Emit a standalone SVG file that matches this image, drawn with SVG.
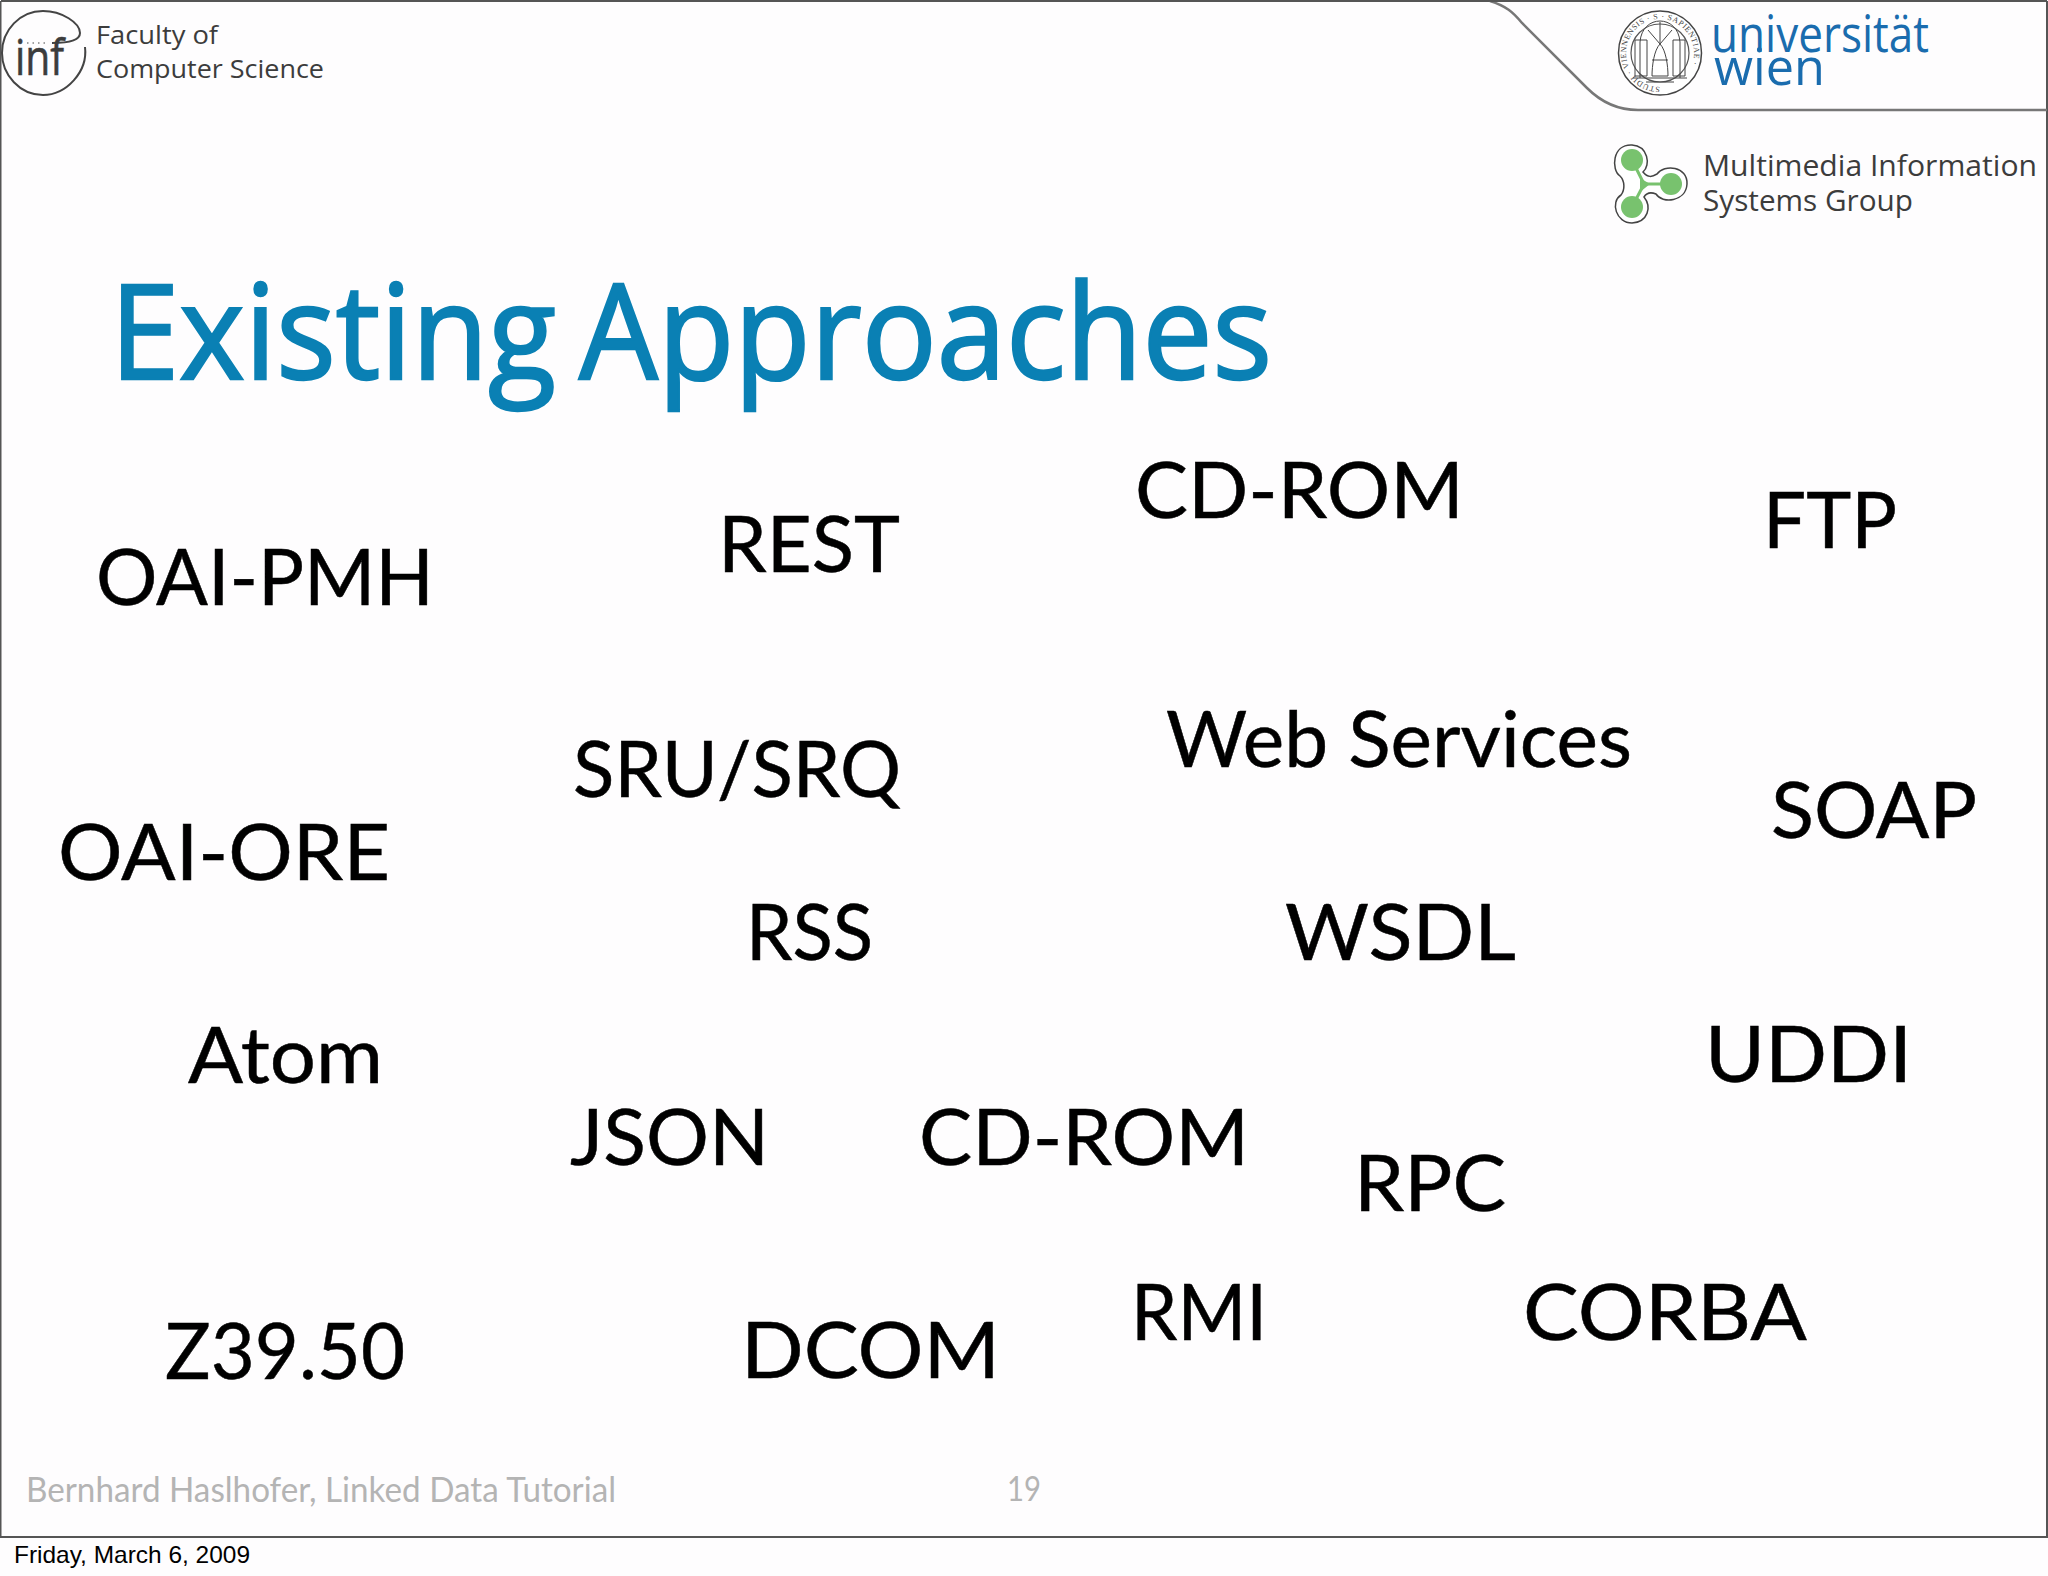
<svg xmlns="http://www.w3.org/2000/svg" width="2048" height="1576" viewBox="0 0 2048 1576">
<style>
.t{font-family:"Lato","Noto Sans",sans-serif;font-size:78px;fill:#000;stroke:#000;stroke-width:.5}
.h{font-family:"Open Sans","Noto Sans",sans-serif;fill:#3c3c3c}
.f{font-family:"Lato","Noto Sans",sans-serif;font-size:35px;fill:#b4b4b4}
.g{fill:none;stroke:#444}
</style>
<defs><path id="sealText" d="M1660 87A34 34 0 1 1 1660.1 87"/></defs>
<rect width="2048" height="1576" fill="#fefdfe"/>
<path d="M.5 1V1537H2047V1" fill="none" stroke="#555" stroke-width="2"/>
<path d="M1 1H1490" fill="none" stroke="#555" stroke-width="2"/>
<path d="M1638 110H2047M1490 1C1506 6 1513 12 1522 23L1587 88C1602 103 1618 110 1638 110" fill="none" stroke="#777" stroke-width="2.5"/>
<path d="M1490 1H2047" stroke="#555" stroke-width="2"/>
<g id="inf-logo">
<path class="g" stroke-width="2" d="M85 47C88 72 66 95 43 95C20 95 2 75 2 53C2 30 20 11 43 11C62 11 80 23 80 33C80 40 70 43 52 43"/>
<text class="h" x="15" y="75" font-size="50" stroke="#3c3c3c" stroke-width=".6" textLength="49" lengthAdjust="spacingAndGlyphs">inf</text>
<path d="M27 43H46" stroke="#444" stroke-width="1" stroke-dasharray="1.5 4"/>
<text class="h" x="96" y="44" font-size="25.5" textLength="122" lengthAdjust="spacingAndGlyphs">Faculty of</text>
<text class="h" x="96" y="78" font-size="25.5" textLength="228" lengthAdjust="spacingAndGlyphs">Computer Science</text>
</g>
<g id="univie-logo">
<ellipse cx="1660" cy="53" rx="41.5" ry="42" fill="#fff" stroke="#444" stroke-width="1.5"/>
<circle cx="1660" cy="53" r="29" fill="none" stroke="#555" stroke-width="1.2"/>
<text font-family="Liberation Serif,serif" font-size="8" fill="#444" letter-spacing=".6"><textPath href="#sealText">STUDII · VIENNENSIS · S · SAPIENTIAE ·</textPath></text>
<path class="g" stroke-width="1" d="M1640 78V42C1642 14 1678 14 1680 42V78M1633 78H1687M1635 40H1647V76H1635ZM1673 40H1685V76H1673ZM1660 44C1654 50 1652 66 1652 76H1668C1668 66 1666 50 1660 44ZM1660 22V44M1648 30L1660 44L1672 30M1652 60H1668M1646 82H1674"/>
<text x="1711" y="52" font-family="Open Sans,sans-serif" font-size="52" fill="#1a6cae" textLength="218" lengthAdjust="spacingAndGlyphs">universität</text>
<text x="1714" y="85" font-family="Open Sans,sans-serif" font-size="52" fill="#1a6cae" textLength="111" lengthAdjust="spacingAndGlyphs">wien</text>
</g>
<g id="mis-logo">
<path fill="#fff" stroke="#444" stroke-width="1.5" d="M1620 176C1611 170 1612 144 1632 145C1648 146 1651 165 1643 172C1648 178 1652 177 1657 174C1664 164 1688 166 1687 184C1686 202 1662 204 1656 194C1651 192 1647 192 1644 197C1652 207 1648 222 1632 223C1616 223 1610 202 1621 195C1625 190 1625 181 1620 176Z"/>
<path d="M1632 160L1644 184H1671M1644 184L1632 207" fill="none" stroke="#78c26e" stroke-width="3"/>
<path d="M1640 178L1650 184L1640 192Z" fill="#78c26e"/>
<circle cx="1632" cy="160" r="11" fill="#78c26e"/><circle cx="1671" cy="184" r="11" fill="#78c26e"/><circle cx="1632" cy="207" r="11" fill="#78c26e"/>
<text class="h" x="1703" y="176" font-size="29" textLength="334" lengthAdjust="spacingAndGlyphs">Multimedia Information</text>
<text class="h" x="1703" y="211" font-size="29" textLength="210" lengthAdjust="spacingAndGlyphs">Systems Group</text>
</g>
<text x="110" y="379" font-family="Open Sans,sans-serif" font-weight="500" font-size="132" word-spacing="-10" fill="#0a80b4" stroke="#0a80b4" stroke-width="2.4" textLength="1162" lengthAdjust="spacingAndGlyphs">Existing Approaches</text>
<g id="labels">
<text class="t" x="96" y="605" textLength="338" lengthAdjust="spacingAndGlyphs">OAI-PMH</text>
<text class="t" x="718" y="572" textLength="182" lengthAdjust="spacingAndGlyphs">REST</text>
<text class="t" x="1135" y="518" textLength="329" lengthAdjust="spacingAndGlyphs">CD-ROM</text>
<text class="t" x="1763" y="548" textLength="134" lengthAdjust="spacingAndGlyphs">FTP</text>
<text class="t" x="573" y="797" textLength="328" lengthAdjust="spacingAndGlyphs">SRU/SRQ</text>
<text class="t" x="1166" y="767" textLength="466" lengthAdjust="spacingAndGlyphs">Web Services</text>
<text class="t" x="1771" y="838" textLength="206" lengthAdjust="spacingAndGlyphs">SOAP</text>
<text class="t" x="58" y="880" textLength="332" lengthAdjust="spacingAndGlyphs">OAI-ORE</text>
<text class="t" x="746" y="960" textLength="127" lengthAdjust="spacingAndGlyphs">RSS</text>
<text class="t" x="1285" y="960" textLength="231" lengthAdjust="spacingAndGlyphs">WSDL</text>
<text class="t" x="188" y="1083" textLength="195" lengthAdjust="spacingAndGlyphs">Atom</text>
<text class="t" x="1705" y="1082" textLength="207" lengthAdjust="spacingAndGlyphs">UDDI</text>
<text class="t" x="570" y="1165" textLength="199" lengthAdjust="spacingAndGlyphs">JSON</text>
<text class="t" x="919" y="1165" textLength="330" lengthAdjust="spacingAndGlyphs">CD-ROM</text>
<text class="t" x="1354" y="1211" textLength="152" lengthAdjust="spacingAndGlyphs">RPC</text>
<text class="t" x="165" y="1379" textLength="240" lengthAdjust="spacingAndGlyphs">Z39.50</text>
<text class="t" x="741" y="1378" textLength="259" lengthAdjust="spacingAndGlyphs">DCOM</text>
<text class="t" x="1131" y="1340" textLength="136" lengthAdjust="spacingAndGlyphs">RMI</text>
<text class="t" x="1523" y="1340" textLength="284" lengthAdjust="spacingAndGlyphs">CORBA</text>
</g>
<text class="f" x="26" y="1502" textLength="590" lengthAdjust="spacingAndGlyphs">Bernhard Haslhofer, Linked Data Tutorial</text>
<text class="f" x="1007" y="1501" textLength="34" lengthAdjust="spacingAndGlyphs">19</text>
<text x="14" y="1563" font-family="Liberation Sans,sans-serif" font-size="24" fill="#000" textLength="236" lengthAdjust="spacingAndGlyphs">Friday, March 6, 2009</text>
</svg>
